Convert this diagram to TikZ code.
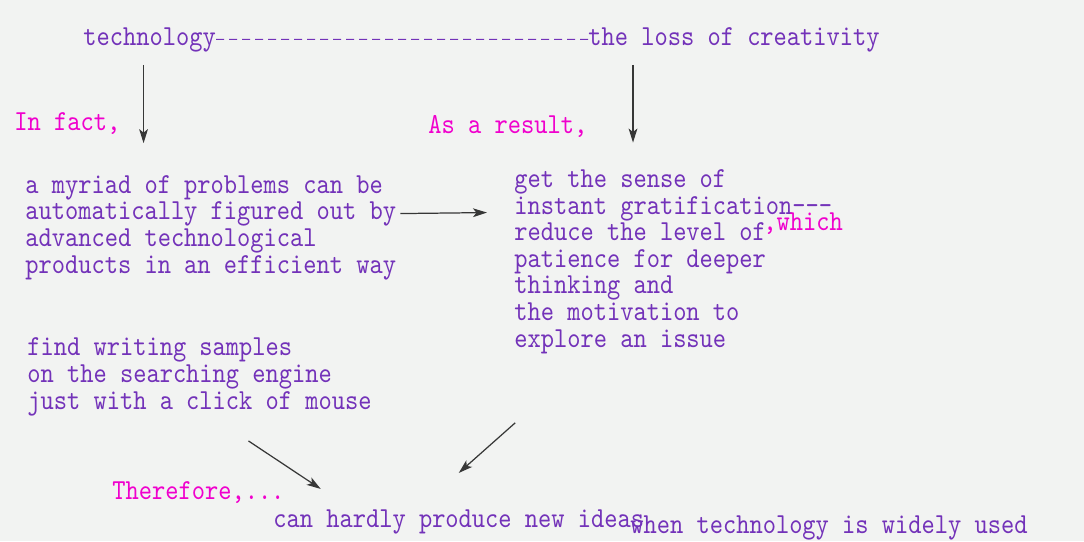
\documentclass[tikz,border=0pt]{standalone}
\usepackage{fontspec}
\usetikzlibrary{arrows.meta,calc}
\newfontfamily\notefont{lmmono10-regular}[Extension=.otf, FakeStretch=0.87]
\definecolor{notepurple}{RGB}{115,50,185}
\definecolor{notepink}{RGB}{240,0,205}
\definecolor{arrowgray}{RGB}{55,55,55}
\definecolor{slidebg}{RGB}{242,243,242}
\tikzset{
  note/.style={inner sep=0pt, anchor=base west, align=left, text=notepurple,
    font=\notefont\fontsize{16.5}{15.1}\selectfont},
  link/.style={note, text=notepink},
  arr/.style={-{Stealth[length=8pt,width=5pt,inset=2pt]}, draw=arrowgray, line width=0.7pt}
}

\begin{document}
\begin{tikzpicture}[x=0.02cm, y=-0.02cm]
    \fill[slidebg] (0,0) rectangle (1084,541);
    \useasboundingbox (0,0) rectangle (1084,541);

    % Draw nodes (multi-line blocks are placed by their last line)
    \node[note] (tech) at (83,45) {technology};
    \node[note] (loss) at (588,45) {the loss of creativity};
    \node[link] (infact) at (14,130) {In fact,};
    \node[link] (result) at (428,133) {As a result,};
    \node[note] (myriad) at (25,273) {a myriad of problems can be\\automatically figured out by\\advanced technological\\products in an efficient way};
    \node[note] (gratif) at (514,347) {get the sense of\\instant gratification---\\reduce the level of\\patience for deeper\\thinking and\\the motivation to\\explore an issue};
    \node[link] (which) at (763,230) {,which};
    \node[note] (search) at (27,409) {find writing samples\\on the searching engine\\just with a click of mouse};
    \node[link] (therefore) at (112,499) {Therefore,...};
    \node[note] (ideas) at (273,527) {can hardly produce new ideas};
    \node[note] (when) at (630,533) {when technology is widely used};

    % Draw connections
    \draw[notepurple, line width=0.6pt, dash pattern=on 4.5pt off 2.9pt] (tech.east) -- (loss.west);
    \draw[arr] ($(tech.south)+(-6,13)$) -- ($(tech.south |- myriad.north)+(-6,-32)$);
    \draw[arr] ($(loss.south)+(-101,13)$) -- ($(loss.south |- gratif.north)+(-101,-27)$);
    \draw[arr] ($(myriad.east)+(4,-14)$) -- ($(gratif.west |- myriad.east)+(-27,-15)$);
    \draw[arr] ($(search.south)+(49,25)$) -- ($(ideas.north)+(-138,-20)$);
    \draw[arr] ($(gratif.south)+(-158,69)$) -- ($(ideas.north)+(0,-36)$);
\end{tikzpicture}
\end{document}
